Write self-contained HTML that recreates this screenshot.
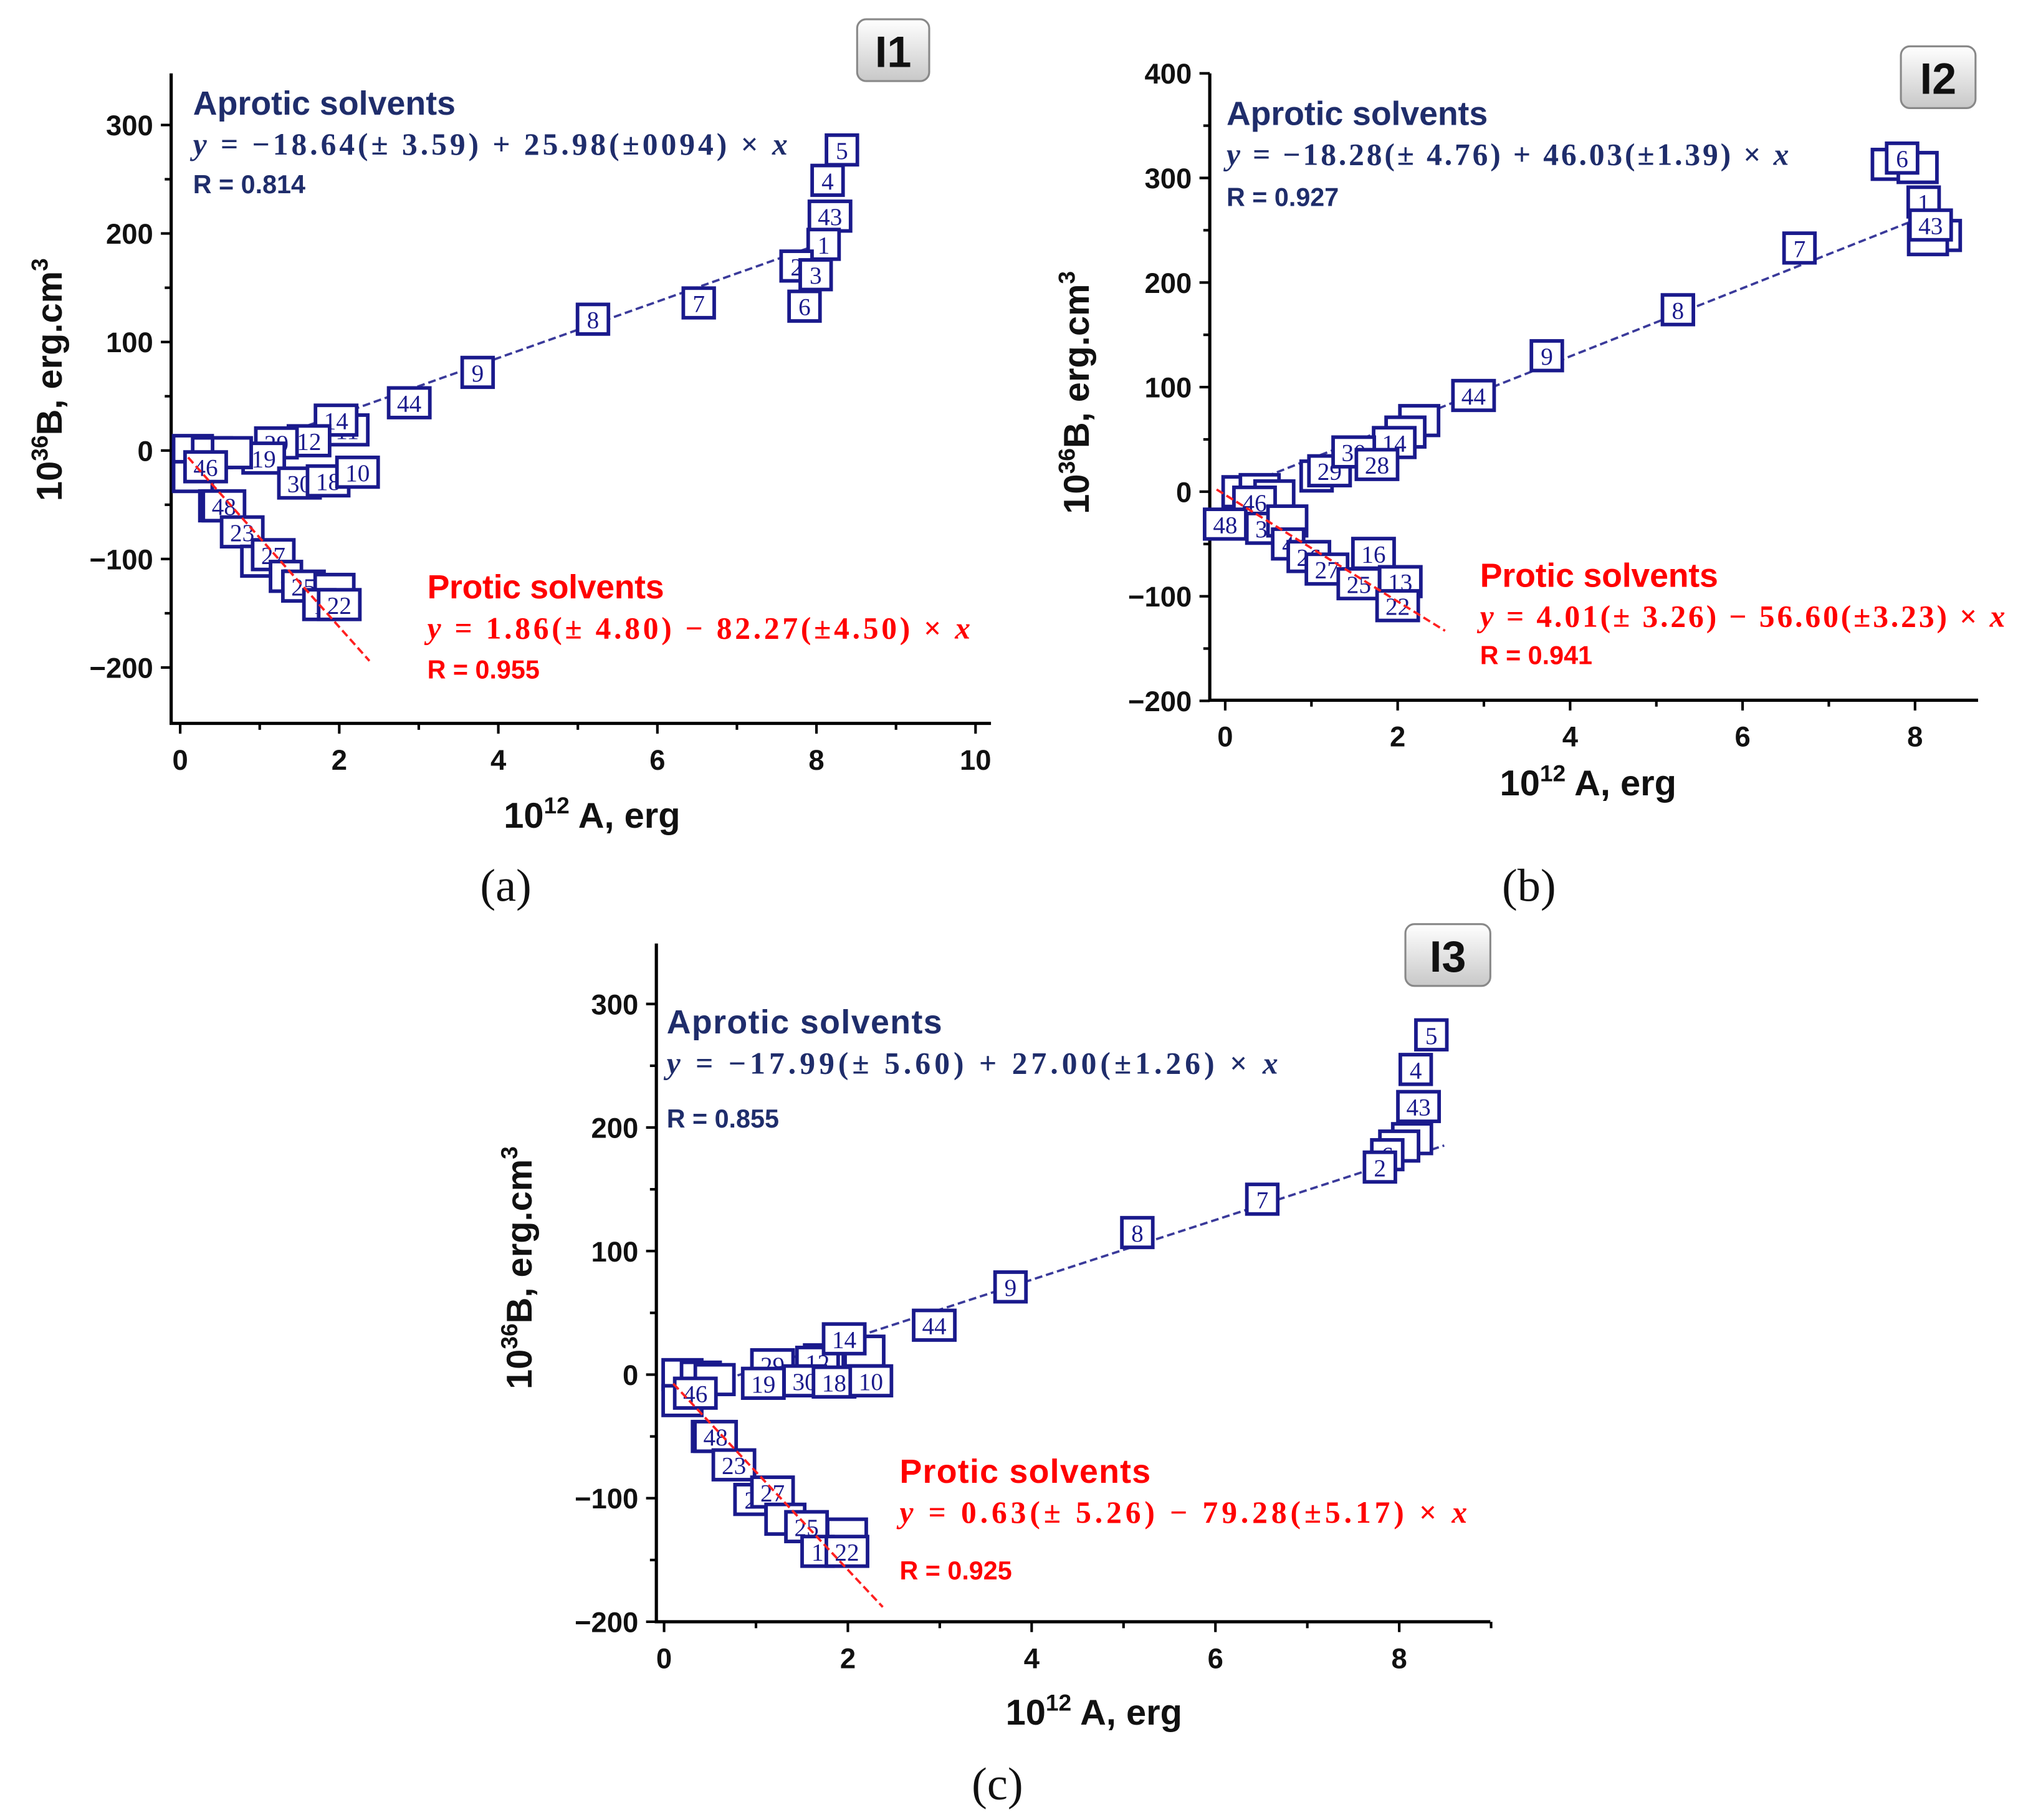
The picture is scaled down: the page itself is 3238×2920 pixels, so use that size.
<!DOCTYPE html>
<html><head><meta charset="utf-8"><style>
html,body{margin:0;padding:0;background:#fff}
svg{display:block}
.tk{font-family:"Liberation Sans",sans-serif;font-weight:bold;font-size:22px;fill:#111}
.ttl{font-family:"Liberation Sans",sans-serif;font-weight:bold;font-size:28px;fill:#111}
.hd{font-family:"Liberation Sans",sans-serif;font-weight:bold;font-size:26px}
.eq{font-family:"Liberation Serif",serif;font-weight:bold;font-size:24px}
.rr{font-family:"Liberation Sans",sans-serif;font-weight:bold;font-size:20px}
.pl{font-family:"Liberation Serif",serif;font-size:36px;fill:#111}
.mk{font-family:"Liberation Serif",serif;font-size:19px;fill:#1a1a8c}
.bd{font-family:"Liberation Sans",sans-serif;font-weight:bold;font-size:34px;fill:#111}
</style></head><body>
<svg id="chart" width="3238" height="2920" viewBox="0 0 1568 1414" xmlns="http://www.w3.org/2000/svg">
<defs><linearGradient id="bg" x1="0" y1="0" x2="0" y2="1"><stop offset="0" stop-color="#ffffff"/><stop offset="1" stop-color="#c8c8c8"/></linearGradient></defs>
</svg>
<script>
// Panel a data
const aLabels=["5","4","43","1","2","3","6","8","7","9","44","11","14","12","29","19","30","18","10","","","","","46","","48","23","2","27","3","25","","1","22"];
const aX=[8.32,8.14,8.17,8.09,7.75,7.99,7.85,5.19,6.52,3.74,2.88,2.1,1.96,1.62,1.21,1.05,1.5,1.86,2.23,0.16,0.4,0.65,0.16,0.32,0.49,0.55,0.78,0.97,1.17,1.33,1.55,1.94,1.75,2.0];
const aY=[277,249,216,190,170,162,133,121,136,72,44,19,28,9,7,-7,-30,-28,-20,0,-2,-2,-24,-15,-51,-51,-75,-102,-96,-116,-125,-128,-142,-142];
// Panel b data
const bLabels=["","","6","1","","","43","7","8","9","44","","","14","1","29","30","28","","","","46","48","37","","4","26","27","16","25","13","22"];
const bX=[7.73,8.03,7.85,8.1,8.3,8.15,8.18,6.66,5.25,3.73,2.88,2.25,2.09,1.96,1.06,1.21,1.49,1.76,0.2,0.4,0.57,0.34,0.0,0.49,0.72,0.73,0.97,1.18,1.72,1.55,2.03,2.0];
const bY=[313,310,319,277,245,241,255,233,174,130,92,68,57,47,15,20,38,26,0,2,-4,-10,-31,-35,-28,-50,-62,-74,-59,-88,-86,-109];
// Panel c data
const cLabels=["5","4","43","","","6","2","7","8","9","44","","","12","14","29","19","30","18","10","","","","","46","","48","23","2","27","","25","","1","22"];
const cX=[8.35,8.18,8.21,8.14,8.0,7.87,7.79,6.51,5.15,3.77,2.94,2.18,1.74,1.67,1.96,1.18,1.08,1.53,1.85,2.25,0.2,0.4,0.55,0.2,0.34,0.52,0.56,0.76,0.94,1.18,1.32,1.55,1.99,1.67,1.99];
const cY=[275,247,217,191,185,178,168,142,115,71,40,19,12,10,29,8,-7,-5,-6,-5,0,-2,-4,-21,-15,-50,-50,-73,-101,-95,-117,-123,-129,-143,-143];
// fit lines [intercept, slope, xStart, xEnd]
const aApr=[-18.64,25.98,0.1,8.3], aPro=[1.86,-82.27,0.1,2.38];
const bApr=[-1,32.6,0.1,8.03], bPro=[-3,-51,-0.1,2.55];
const cApr=[-20,24.2,0.2,8.49], cPro=[0.63,-79.28,0.1,2.38];
const aXt=[0,2,4,6,8,10], aYt=[-200,-100,0,100,200,300];
const bXt=[0,2,4,6,8], bYt=[-200,-100,0,100,200,300,400];
const cXt=[0,2,4,6,8], cYt=[-200,-100,0,100,200,300];

const svg=document.getElementById('chart');
const NS="http://www.w3.org/2000/svg";
function mk(tag,at,txt,parent){const e=document.createElementNS(NS,tag);for(const k in at)e.setAttribute(k,at[k]);if(txt!==undefined)e.textContent=txt;(parent||svg).appendChild(e);return e;}

function panel(P){
  const g=mk('g',{});
  
  
  const sx=v=>P.x0+v*P.kx, sy=v=>P.y0-v*P.ky;
  const ax=mk('path',{d:`M${P.axL},${P.axT} V${P.axB} H${P.axR}`,stroke:'#000','stroke-width':2.5,fill:'none'},undefined,g);
  
  
  for(let v=P.xMin;v<=P.xMax+1e-9;v+=P.xMinor){
    const major=P.xt.some(t=>Math.abs(t-v)<1e-6);
    mk('line',{x1:sx(v),x2:sx(v),y1:P.axB,y2:P.axB+(major?8:5),stroke:'#000','stroke-width':2},undefined,g);
  }
  P.xt.forEach(t=>{const e=mk('text',{x:sx(t),y:P.axB+36,'text-anchor':'middle',class:'tk'},String(t),g);
    
    });
  for(let v=P.yMin;v<=P.yMax+1e-9;v+=50){
    const major=P.yt.some(t=>Math.abs(t-v)<1e-6);
    mk('line',{x1:P.axL,x2:P.axL-(major?8:5),y1:sy(v),y2:sy(v),stroke:'#000','stroke-width':2},undefined,g);
  }
  P.yt.forEach(t=>{const e=mk('text',{x:P.axL-14,y:sy(t)+8,'text-anchor':'end',class:'tk'},(t<0?'\u2212'+(-t):String(t)),g);
    
    });
  const xt=mk('text',{x:P.xtx,y:P.xty,'text-anchor':'middle',class:'ttl'},undefined,g);
  
  
  xt.innerHTML='10<tspan dy="-11" font-size="18">12</tspan><tspan dy="11"> A, erg</tspan>';
  const yt=mk('text',{x:0,y:0,'text-anchor':'middle',class:'ttl',transform:`translate(${P.ytx},${P.yty}) rotate(-90)`},undefined,g);
  
  
  yt.innerHTML='10<tspan dy="-11" font-size="18">36</tspan><tspan dy="11">B, erg.cm</tspan><tspan dy="-11" font-size="18">3</tspan>';
  const ln=(L,col,nm)=>{const e=mk('line',{x1:sx(L[2]),y1:sy(L[0]+L[1]*L[2]),x2:sx(L[3]),y2:sy(L[0]+L[1]*L[3]),stroke:col,'stroke-width':1.8,'stroke-dasharray':'6,3'},undefined,g);
    
    };
  ln(P.apr,'#3a3a9a','aprotic-fit-line');
  for(let i=0;i<P.X.length;i++){
    const lab=P.L[i]; const w=lab.length>1?32:(lab.length?24:30), h=23;
    const cx=sx(P.X[i]), cy=sy(P.Y[i]);
    const r=mk('rect',{x:cx-w/2,y:cy-h/2,width:w,height:h,fill:'#fff',stroke:'#1a1a8c','stroke-width':2.8},undefined,g);
    
    
    if(lab){const t=mk('text',{x:cx,y:cy+7,'text-anchor':'middle',class:'mk'},lab,g);
      
      }
  }
  ln(P.pro,'#ff2020','protic-fit-line');
  const T=(x,y,cls,col,html,nm,len)=>{const at={x:x,y:y,class:cls,fill:col};if(len){at.textLength=len;at.lengthAdjust='spacing';}
    const e=mk('text',at,undefined,g);e.innerHTML=html;
    
    };
  T(P.ax0,P.ay0,'hd','#1f2d6b','Aprotic solvents','aprotic-title',P.hl);
  T(P.ax0,P.ay0+31,'eq','#1f2d6b',P.aeq,'aprotic-equation',P.ael);
  T(P.ax0,P.ay0+P.rdy,'rr','#1f2d6b',P.ar,'aprotic-r');
  T(P.px0,P.py0,'hd','#ff0000','Protic solvents','protic-title',P.phl);
  T(P.px0,P.py0+31,'eq','#ff0000',P.peq,'protic-equation',P.pel);
  T(P.px0,P.py0+P.prdy,'rr','#ff0000',P.pr,'protic-r');
  const b=mk('rect',{x:P.bx,y:P.by,width:P.bw,height:48,rx:7,fill:'url(#bg)',stroke:'#888','stroke-width':1.5},undefined,g);
  
  
  mk('text',{x:P.bx+P.bw/2,y:P.by+37,'text-anchor':'middle',class:'bd'},P.badge,g);
  const pl=mk('text',{x:P.plx,y:P.ply,'text-anchor':'middle',class:'pl'},P.pl,g);
  
  
}
const I=s=>'<tspan font-style="italic">'+s+'</tspan>';
panel({name:'panel-a',x0:140,kx:61.8,y0:350,ky:0.843,axL:133,axT:57,axB:562,axR:770,xMin:0,xMax:10,xMinor:1,yMin:-200,yMax:300,
 xt:aXt,yt:aYt,X:aX,Y:aY,L:aLabels,apr:aApr,pro:aPro,xtx:460,xty:643,ytx:48,yty:295,
 ax0:150,ay0:89,rdy:61,aeq:I('y')+' = \u221218.64(\u00b1 3.59) + 25.98(\u00b10094) \u00d7 '+I('x'),ar:'R = 0.814',
 px0:332,py0:465,prdy:62,peq:I('y')+' = 1.86(\u00b1 4.80) \u2212 82.27(\u00b14.50) \u00d7 '+I('x'),pr:'R = 0.955',
 hl:204,ael:462,phl:184,pel:422,
 bx:666,by:15,bw:56,badge:'I1',plx:393,ply:700,pl:'(a)'});
panel({name:'panel-b',x0:952,kx:67,y0:382,ky:0.8125,axL:940,axT:57,axB:544,axR:1537,xMin:0,xMax:8,xMinor:1,yMin:-200,yMax:400,
 xt:bXt,yt:bYt,X:bX,Y:bY,L:bLabels,apr:bApr,pro:bPro,xtx:1234,xty:618,ytx:846,yty:305,
 ax0:953,ay0:97,rdy:63,aeq:I('y')+' = \u221218.28(\u00b1 4.76) + 46.03(\u00b11.39) \u00d7 '+I('x'),ar:'R = 0.927',
 px0:1150,py0:456,prdy:60,peq:I('y')+' = 4.01(\u00b1 3.26) \u2212 56.60(\u00b13.23) \u00d7 '+I('x'),pr:'R = 0.941',
 hl:203,ael:437,phl:185,pel:408,
 bx:1477,by:36,bw:58,badge:'I2',plx:1188,ply:700,pl:'(b)'});
panel({name:'panel-c',x0:516,kx:71.4,y0:1068,ky:0.96,axL:510,axT:733,axB:1260,axR:1158,xMin:0,xMax:9,xMinor:1,yMin:-200,yMax:300,
 xt:cXt,yt:cYt,X:cX,Y:cY,L:cLabels,apr:cApr,pro:cPro,xtx:850,xty:1340,ytx:413,yty:985,
 ax0:518,ay0:803,rdy:73,aeq:I('y')+' = \u221217.99(\u00b1 5.60) + 27.00(\u00b11.26) \u00d7 '+I('x'),ar:'R = 0.855',
 px0:699,py0:1152,prdy:75,peq:I('y')+' = 0.63(\u00b1 5.26) \u2212 79.28(\u00b15.17) \u00d7 '+I('x'),pr:'R = 0.925',
 hl:214,ael:475,phl:195,pel:441,
 bx:1092,by:718,bw:66,badge:'I3',plx:775,ply:1398,pl:'(c)'});
</script>
</body></html>
